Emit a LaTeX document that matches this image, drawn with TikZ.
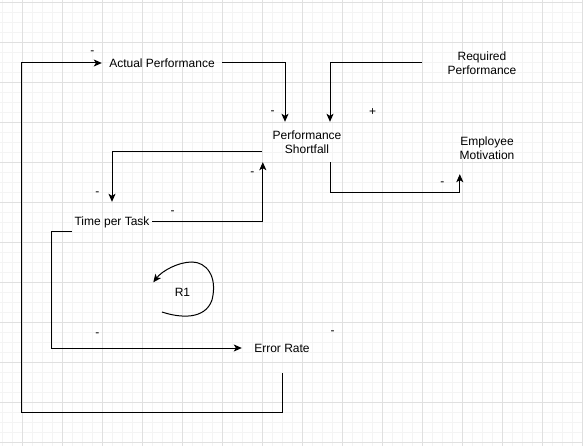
\documentclass[tikz,border=0pt]{standalone}
\usepackage{fontspec}
\setmainfont{Liberation Sans}
\usetikzlibrary{arrows.meta,calc}
\definecolor{gridminor}{HTML}{F4F4F4}
\definecolor{gridmajor}{HTML}{E0E0E0}
\begin{document}
\begin{tikzpicture}[x=1pt,y=-1pt,
  lbl/.style={inner sep=0pt, align=center, font=\fontsize{12}{14}\selectfont},
  box/.style 2 args={lbl, minimum width=#1, minimum height=#2},
  sign/.style={inner sep=0pt, font=\fontsize{12}{14}\selectfont},
  conn/.style={line width=1pt, line join=miter},
  arr/.style={conn, -{Stealth[length=8pt, width=7pt, inset=2pt]}}
]
\useasboundingbox (0,0) rectangle (583,446);
\fill[white] (0,0) rectangle (583,446);
% grid
\foreach \gx in {2,12,...,582} \draw[gridminor, line width=0.8pt] (\gx,0) -- (\gx,446);
\foreach \gy in {2.5,12.5,...,446} \draw[gridminor, line width=0.8pt] (0,\gy) -- (583,\gy);
\foreach \gx in {22,62,...,582} \draw[gridmajor, line width=0.9pt] (\gx,0) -- (\gx,446);
\foreach \gy in {2.5,42.5,...,446} \draw[gridmajor, line width=0.9pt] (0,\gy) -- (583,\gy);

% nodes
\node[box={120}{20}] (ap) at (162,63) {Actual Performance};
\node[box={120}{40}] (rp) at (482,63) {Required\\Performance};
\node[box={90}{40}] (sf) at (307,142) {Performance\\Shortfall};
\node[box={60}{52}] (em) at (487,148) {Employee\\Motivation};
\node[box={80}{40}] (tt) at (112,222) {Time per Task};
\node[box={80}{50}] (er) at (282,348) {Error Rate};
\node[lbl] (r1) at (182.5,292) {R1};

% signs
\node[sign] (s1) at (92.3,52.7) {-};
\node[sign] (s2) at (272.7,112.7) {-};
\node[sign] (s3) at (372.7,112.3) {+};
\node[sign] (s4) at (442.3,183.3) {-};
\node[sign] (s5) at (252.3,173.3) {-};
\node[sign] (s6) at (97.3,193.3) {-};
\node[sign] (s7) at (172.7,212.3) {-};
\node[sign] (s8) at (97.3,335) {-};
\node[sign] (s9) at (332.7,332.7) {-};

% connectors
\draw[arr] (ap.east) -| ($(sf.north)+(-22,0)$);
\draw[arr] (rp.west) -| ($(sf.north)+(23,0)$);
\draw[arr] ($(sf.west)+(0,10)$) -| (tt.north);
\draw[arr] (tt.east) -| ($(sf.south west)+(1,0)$);
\draw[arr] ($(sf.south)+(23,0)$) |- ($(em.south west)+(3,18)$) -- ($(em.south west)+(3,0)$);
\draw[arr] ($(tt.west)+(0,10)$) -- ++(-20,0) |- (er.west);
\draw[arr] (er.south) -- ++(0,39) -| ($(ap.west)+(-80,0)$) -- (ap.west);

% loop symbol
\draw[arr] (162,312) .. controls (180,318) and (205,320) .. (212,300)
  .. controls (218,276) and (206,262) .. (192,262)
  .. controls (178,262) and (162,271) .. (153.3,282.3);
\end{tikzpicture}
\end{document}
